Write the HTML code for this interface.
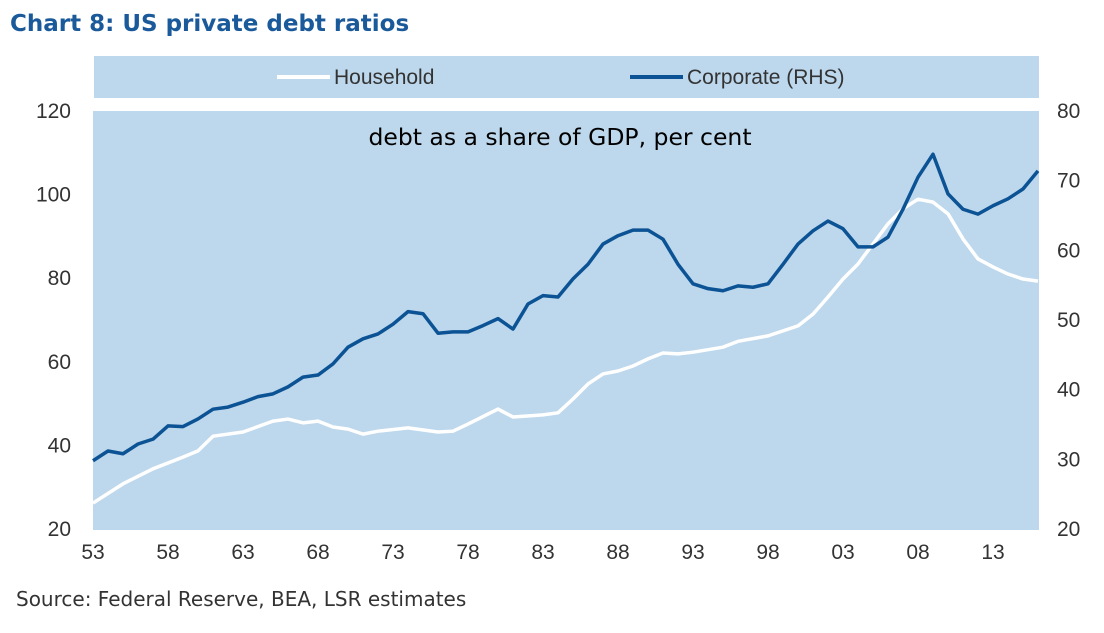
<!DOCTYPE html>
<html><head><meta charset="utf-8"><style>
body{margin:0;background:#fff;width:1104px;height:628px;overflow:hidden;font-family:"Liberation Sans",sans-serif}
</style></head><body>
<svg width="1104" height="628" xmlns="http://www.w3.org/2000/svg">
<text x="10" y="31" font-size="23" font-weight="bold" fill="#1a5a9a" font-family="'DejaVu Sans',sans-serif">Chart 8: US private debt ratios</text>
<rect x="94" y="56" width="945" height="42" fill="#bdd7ec"/>
<g><line x1="277" y1="77" x2="330" y2="77" stroke="#fff" stroke-width="4"/><text x="334" y="84" font-size="21" fill="#333">Household</text></g>
<g><line x1="630" y1="77" x2="683" y2="77" stroke="#0b5394" stroke-width="4"/><text x="687" y="84" font-size="21" fill="#333">Corporate (RHS)</text></g>
<rect x="93" y="111" width="946" height="419" fill="#bdd7ec"/>
<text x="560" y="145" font-size="23.5" text-anchor="middle" fill="#000" font-family="'DejaVu Sans',sans-serif">debt as a share of GDP, per cent</text>
<g id="ax"></g><g id="lines"></g>
<text x="16" y="606" font-size="20" fill="#333" font-family="'DejaVu Sans',sans-serif">Source: Federal Reserve, BEA, LSR estimates</text>
</svg>
<script>
const years=[1953,1955,1957,1959,1960,1961,1963,1965,1966,1967,1968,1969,1970,1971,1972,1974,1976,1977,1978,1980,1981,1983,1984,1985,1986,1987,1988,1989,1990,1991,1992,1993,1995,1996,1998,2000,2001,2002,2003,2004,2005,2006,2007,2008,2009,2010,2011,2012,2013,2014,2015,2016];
const household=[26.2,30.8,34.4,37.2,38.7,42.2,43.2,45.8,46.3,45.4,45.8,44.4,43.9,42.7,43.4,44.2,43.2,43.4,45.1,48.7,46.8,47.3,47.8,51.1,54.7,57.1,57.8,59,60.7,62.1,61.9,62.3,63.5,64.9,66.2,68.6,71.4,75.5,79.8,83.4,88.2,93,96.6,98.9,98.2,95.4,89.4,84.6,82.7,81,79.8,79.3];
const corpYears=[1953,1954,1955,1956,1957,1958,1959,1960,1961,1962,1963,1964,1965,1966,1967,1968,1969,1970,1971,1972,1973,1974,1975,1976,1977,1978,1979,1980,1981,1982,1983,1984,1985,1986,1987,1988,1989,1990,1991,1992,1993,1994,1995,1996,1997,1998,1999,2000,2001,2002,2003,2004,2005,2006,2007,2008,2009,2010,2011,2012,2013,2014,2015,2016];
const corporate=[29.8,31.2,30.8,32.2,32.9,34.8,34.7,35.8,37.2,37.5,38.2,39,39.4,40.4,41.8,42.1,43.7,46.1,47.3,48,49.4,51.2,50.9,48.1,48.3,48.3,49.2,50.2,48.7,52.3,53.5,53.3,55.9,58,60.9,62.1,62.9,62.9,61.6,58,55.2,54.5,54.2,54.9,54.7,55.2,58,60.9,62.8,64.2,63.1,60.5,60.5,61.9,65.9,70.5,73.8,68.1,65.9,65.2,66.4,67.4,68.8,71.4];
const leftTicks=[20,40,60,80,100,120];
const rightTicks=[20,30,40,50,60,70,80];
const xTicks=["53","58","63","68","73","78","83","88","93","98","03","08","13"];
const NS="http://www.w3.org/2000/svg";
const x=y=>93+(y-1953)*15;
const yl=v=>529-(v-20)*(418/100);
const yr=v=>529-(v-20)*(418/60);
const ax=document.getElementById('ax'),ln=document.getElementById('lines');
function t(p,xx,yy,s,a,name){const e=document.createElementNS(NS,'text');e.setAttribute('x',xx);e.setAttribute('y',yy);e.setAttribute('font-size','21');e.setAttribute('fill','#333');e.setAttribute('text-anchor',a);e.textContent=s;


p.appendChild(e);}
leftTicks.forEach(v=>t(ax,71,yl(v)+7,v,'end','left-tick-label'));
rightTicks.forEach(v=>t(ax,1057,yr(v)+7,v,'start','right-tick-label'));
xTicks.forEach((s,i)=>t(ax,x(1953+5*i),559,s,'middle','x-tick-label'));
function line(xs,vs,f,c,name){const p=document.createElementNS(NS,'polyline');p.setAttribute('points',xs.map((yy,i)=>x(yy)+','+f(vs[i])).join(' '));p.setAttribute('fill','none');p.setAttribute('stroke',c);p.setAttribute('stroke-width','3.5');p.setAttribute('stroke-linejoin','round');


ln.appendChild(p);}
line(years,household,yl,'#fff','household-line');
line(corpYears,corporate,yr,'#0b5394','corporate-line');
</script>
</body></html>
